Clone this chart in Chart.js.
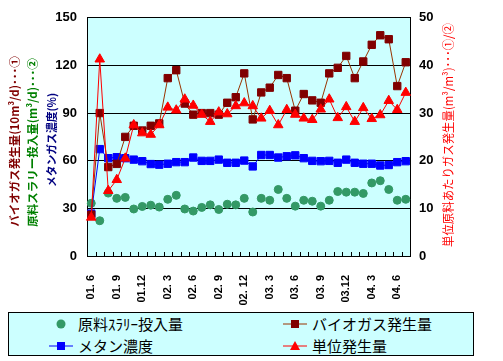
<!DOCTYPE html>
<html><head><meta charset="utf-8">
<script src="https://cdn.jsdelivr.net/npm/chart.js@4"></script>
<style>
html,body{margin:0;padding:0;background:#fff;}
#wrap{position:relative;width:503px;height:361px;overflow:hidden;}
canvas{position:absolute;left:0;top:0;}
#legend{position:absolute;left:8px;top:312px;width:464px;height:42px;border:1px solid #000;background:#ccffff;font-family:"Noto Sans CJK JP";font-size:15px;color:#000;}
.item{position:absolute;height:20px;line-height:20px;white-space:nowrap;}
.item svg{position:absolute;left:0;top:4px;}
.item span{position:absolute;left:29px;top:0;}
</style></head>
<body>
<div id="wrap">
<canvas id="c" width="503" height="361"></canvas>
<div id="legend">
  <div class="item" style="left:40px;top:1px;"><svg width="24" height="12"><circle cx="12" cy="6" r="4.5" fill="#339966"/></svg><span>原料ｽﾗﾘｰ投入量</span></div>
  <div class="item" style="left:274px;top:1px;"><svg width="24" height="12"><line x1="0" y1="6" x2="24" y2="6" stroke="#993300" stroke-width="1"/><rect x="8" y="2" width="8" height="8" fill="#800000"/></svg><span>バイオガス発生量</span></div>
  <div class="item" style="left:40px;top:23px;"><svg width="24" height="12"><line x1="0" y1="6" x2="24" y2="6" stroke="#0000ff" stroke-width="1"/><rect x="8" y="2" width="8" height="8" fill="#0000ff"/></svg><span>メタン濃度</span></div>
  <div class="item" style="left:274px;top:23px;"><svg width="24" height="12"><line x1="0" y1="6" x2="24" y2="6" stroke="#ff0000" stroke-width="1"/><polygon points="12,1 17,10 7,10" fill="#ff0000"/></svg><span>単位発生量</span></div>
</div>
</div>
<script>
const categories = ["01. 6","01. 7","01. 8","01. 9","01.10","01.11","01.12",
 "02. 1","02. 2","02. 3","02. 4","02. 5","02. 6","02. 7","02. 8","02. 9","02.10","02.11","02. 12",
 "03. 1","03. 2","03. 3","03. 4","03. 5","03. 6","03. 7","03. 8","03. 9","03.10","03.11","03.12",
 "04. 1","04. 2","04. 3","04. 4","04. 5","04. 6","04. 7"];
const slurry = [33.2,22.2,39.6,36.3,36.9,29.6,31.2,32,30.8,35.7,38.2,29.6,28.3,30.6,32.2,29.3,32.6,32.2,36.3,27.7,36.3,35.1,41.9,36.3,31.4,35.1,34.5,31.4,35.1,40.6,40.2,40.2,39.4,46,47.4,41.9,35.1,35.7];
const biogas = [26,90,56,58,75,82,79,82,83.5,112,117,96,89,90,90,89,96.5,100,115,86,103,106,114,112,91.5,102,98,96.5,115,118.5,126,112,122.5,133,139,136.5,107,122];
const methane = [26.7,67.3,61.6,62.2,61.6,60.7,59.7,57.9,57.5,58.1,59.1,59.1,62,59.9,59.9,60.7,58.7,58.7,60.1,56.4,63.6,63.6,62,62.8,63.4,61.6,59.9,59.7,59.9,58.7,60.7,58.7,58.1,58.1,57,57.3,59.1,59.7];
const unitGas = [8.1,41.3,13.7,16,20.5,27.5,25.8,25.5,27.5,31.2,30.6,32.9,31.6,29.7,28.2,30.2,29.8,31.5,32.1,31.5,28.9,30.5,27.5,30.7,29.7,28.9,28.6,30.8,32.9,29,31.3,28.2,31.1,28.8,29.6,32.6,30.7,34.3];
const leftTicks = [0,30,60,90,120,150];
const rightTicks = [0,10,20,30,40,50];

const bgPlugin = {
  id:'bg',
  beforeDraw(chart){
    const {ctx, chartArea:a} = chart;
    ctx.save(); ctx.fillStyle='#ccffff';
    ctx.fillRect(a.left,a.top,a.right-a.left,a.bottom-a.top);
    ctx.restore();
  }
};
const decoPlugin = {
  id:'deco',
  afterDraw(chart){
    const {ctx, chartArea:a} = chart;
    const n = categories.length;
    const step = (a.right-a.left)/n;
    ctx.save();
    ctx.strokeStyle='#000'; ctx.lineWidth=1;
    ctx.beginPath();
    for(let k=1;k<n;k++){
      const x = Math.round(a.left+k*step)+0.5;
      ctx.moveTo(x,a.bottom); ctx.lineTo(x,a.bottom-4);
    }
    ctx.stroke();
    function vt(text,x,yc,color,font,maxW){
      ctx.save(); ctx.translate(x,yc); ctx.rotate(-Math.PI/2);
      ctx.fillStyle=color; ctx.font=font; ctx.textAlign='center'; ctx.textBaseline='middle';
      ctx.fillText(text,0,0,maxW); ctx.restore();
    }
    vt('バイオガス発生量(10m³/d)･･･①',15,141.5,'#800000','bold 11.5px "Noto Sans CJK JP"',183);
    vt('原料スラリー投入量(m³/d)･･･②',33,142.5,'#008000','bold 11.5px "Noto Sans CJK JP"',181);
    vt('メタンガス濃度(%)',52,140,'#000080','bold 11px "Noto Sans CJK JP"',94);
    vt('単位原料あたりガス発生量(m³/m³)･･･①/②',448,135,'#ff0000','12px "Noto Sans CJK JP"',224);
    ctx.restore();
  }
};

new Chart(document.getElementById('c'), {
  type:'line',
  data:{
    labels:categories,
    datasets:[
      {label:'単位発生量', data:unitGas, yAxisID:'y2', order:0, borderColor:'#ff0000', backgroundColor:'#ff0000', borderWidth:1, pointStyle:'triangle', pointRadius:5.5, pointBorderWidth:1, pointBackgroundColor:'#ff0000', pointBorderColor:'#ff0000', tension:0},
      {label:'バイオガス発生量', data:biogas, yAxisID:'y', order:1, borderColor:'#993300', backgroundColor:'#800000', borderWidth:1, pointStyle:'rect', pointRadius:5.2, pointBorderWidth:1, pointBackgroundColor:'#800000', pointBorderColor:'#800000', tension:0},
      {label:'メタン濃度', data:methane, yAxisID:'y', order:2, borderColor:'#0000ff', backgroundColor:'#0000ff', borderWidth:1, pointStyle:'rect', pointRadius:5.2, pointBorderWidth:1, pointBackgroundColor:'#0000ff', pointBorderColor:'#0000ff', tension:0},
      {label:'原料ｽﾗﾘｰ投入量', data:slurry, yAxisID:'y', order:3, showLine:false, pointStyle:'circle', pointRadius:4, pointBorderWidth:1, pointBackgroundColor:'#339966', pointBorderColor:'#339966', backgroundColor:'#339966', borderColor:'#339966'}
    ]
  },
  options:{
    responsive:false, animation:false, devicePixelRatio:1,
    layout:{padding:{top:13,left:0,right:0,bottom:0}},
    plugins:{legend:{display:false}, tooltip:{enabled:false}},
    scales:{
      x:{
        offset:true,
        grid:{display:false},
        border:{display:true,color:'#000',width:1},
        ticks:{autoSkip:false,minRotation:90,maxRotation:90,padding:11,color:'#000',
          font:{family:'"Liberation Sans"',size:11,weight:'bold'},
          callback:(v,i)=> i%3===0 ? categories[i] : ''},
        afterFit(s){ s.height=105; }
      },
      y:{
        position:'left', min:0, max:150,
        afterBuildTicks(s){ s.ticks = leftTicks.map(v=>({value:v})); },
        grid:{color:'#000',lineWidth:1,drawTicks:false},
        border:{display:true,color:'#000',width:1},
        ticks:{padding:10,color:'#000',font:{family:'"Liberation Sans"',size:13,weight:'bold'}},
        afterFit(s){ s.width=87; }
      },
      y2:{
        position:'right', min:0, max:50,
        afterBuildTicks(s){ s.ticks = rightTicks.map(v=>({value:v})); },
        grid:{drawOnChartArea:false,drawTicks:false},
        border:{display:true,color:'#000',width:1},
        ticks:{padding:9,color:'#000',font:{family:'"Liberation Sans"',size:13,weight:'bold'}},
        afterFit(s){ s.width=93; }
      }
    }
  },
  plugins:[bgPlugin, decoPlugin]
});
</script>
</body></html>
